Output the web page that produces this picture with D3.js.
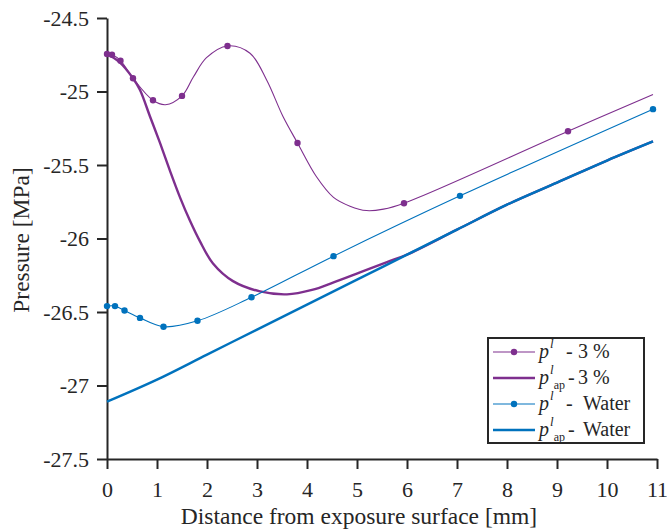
<!DOCTYPE html>
<html lang="en">
<head>
<meta charset="utf-8">
<title>Pressure profiles</title>
<script src="https://cdn.jsdelivr.net/npm/d3@7"></script>
<style>
body{margin:0;background:#fff;}
text{font-family:"Liberation Serif","DejaVu Serif",serif;fill:#262626;}
.axis path,.axis line{stroke:#262626;stroke-width:2;}
.axis text{font-size:22px;font-family:"Liberation Serif","DejaVu Serif",serif;}
</style>
</head>
<body>
<div id="chart"></div>
<script>
// values (x in mm, y in MPa)
var xTicks = [0,1,2,3,4,5,6,7,8,9,10,11]
var yTicks = [-24.5,-25,-25.5,-26,-26.5,-27,-27.5]
var yTickLabels = ["-24.5","-25","-25.5","-26","-26.5","-27","-27.5"]

// p^l - 3 %  (thin line, markers on some points)
var pur_x = [0,0.1,0.27,0.52,0.92,1.17,1.5,1.73,1.99,2.41,2.86,3.19,3.52,3.81,4.19,4.53,4.86,5.19,5.53,5.94,9.22,10.92]
var pur_y = [-24.745,-24.75,-24.79,-24.91,-25.06,-25.09,-25.03,-24.9,-24.77,-24.69,-24.74,-24.92,-25.17,-25.35,-25.58,-25.72,-25.78,-25.81,-25.80,-25.76,-25.27,-25.02]
var pur_marks = [0,1,2,3,4,6,9,13,19,20]

// p^l_ap - 3 %
var purAp_x = [0,0.25,0.52,0.66,0.86,1.06,1.26,1.46,1.66,1.86,2.12,2.52,3.06,3.6,4.1,4.52,5.06,5.6,6,7,8,9,10,10.92]
var purAp_y = [-24.745,-24.8,-24.91,-24.99,-25.17,-25.35,-25.54,-25.72,-25.88,-26.02,-26.17,-26.29,-26.36,-26.38,-26.35,-26.3,-26.23,-26.16,-26.11,-25.94,-25.77,-25.62,-25.47,-25.34]

// p^l - Water
var blu_x = [0,0.16,0.35,0.66,1.13,1.81,2.89,4.53,7.06,10.92]
var blu_y = [-26.46,-26.46,-26.49,-26.54,-26.6,-26.56,-26.4,-26.12,-25.71,-25.12]
var blu_marks = [0,1,2,3,4,5,6,7,8,9]

// p^l_ap - Water
var bluAp_x = [0,1,2,3,4,5,6,7,8,9,10,10.92]
var bluAp_y = [-27.11,-26.96,-26.79,-26.62,-26.45,-26.28,-26.11,-25.94,-25.77,-25.62,-25.47,-25.34]

var purple = "#7E2F8E"
var blue = "#0072BD"

var w = 667, h = 530
var svg = d3.select("#chart").append("svg")
    .attr("width",w).attr("height",h)

var xScale = d3.scaleLinear().domain([0,11]).range([107,657])
var yScale = d3.scaleLinear().domain([-27.5,-24.5]).range([459,18])

var xAxis = d3.axisBottom(xScale).tickValues(xTicks).tickFormat(d3.format("d"))
    .tickSizeInner(10).tickSizeOuter(0).tickPadding(12)
svg.append("g").attr("class","axis")
    .attr("transform","translate(0,459)")
    .call(xAxis)

var yAxis = d3.axisLeft(yScale).tickValues(yTicks)
    .tickFormat(function(d,i){ return yTickLabels[i] })
    .tickSizeInner(10).tickSizeOuter(0).tickPadding(8)
svg.append("g").attr("class","axis")
    .attr("transform","translate(107,0)")
    .call(yAxis)
svg.selectAll(".axis text").attr("fill","#262626")

svg.append("text")
    .attr("x",359).attr("y",524)
    .attr("text-anchor","middle")
    .style("font-size","23.5px")
    .text("Distance from exposure surface [mm]")

svg.append("text")
    .attr("transform","translate(29,240) rotate(-90)")
    .attr("text-anchor","middle")
    .style("font-size","23.5px")
    .text("Pressure [MPa]")

var line = d3.line()
    .x(function(d){ return xScale(d[0]) })
    .y(function(d){ return yScale(d[1]) })
    .curve(d3.curveCatmullRom.alpha(0.5))

function pairs(xs,ys){ return xs.map(function(x,i){ return [x,ys[i]] }) }

function drawSeries(xs,ys,color,width,marks){
    var pts = pairs(xs,ys)
    svg.append("path")
        .datum(pts)
        .attr("d",line)
        .attr("fill","none")
        .attr("stroke",color)
        .attr("stroke-width",width)
    if(marks){
        svg.append("g").selectAll("circle")
            .data(marks.map(function(i){ return pts[i] }))
            .enter()
            .append("circle")
            .attr("cx",function(d){ return xScale(d[0]) })
            .attr("cy",function(d){ return yScale(d[1]) })
            .attr("r",3.2)
            .attr("fill",color)
    }
}

drawSeries(pur_x,pur_y,purple,1.1,pur_marks)
drawSeries(purAp_x,purAp_y,purple,2.4,null)
drawSeries(blu_x,blu_y,blue,1.1,blu_marks)
drawSeries(bluAp_x,bluAp_y,blue,2.4,null)

// legend
var leg = svg.append("g").attr("transform","translate(488,338)")
leg.append("rect")
    .attr("width",156).attr("height",105)
    .attr("fill","#fff")
    .attr("stroke","#262626")
    .attr("stroke-width",2)

var legItems = [
    {color:purple, width:1.1, marker:true, sub:false, tail:"3 %"},
    {color:purple, width:2.4, marker:false, sub:true, tail:"3 %"},
    {color:blue, width:1.1, marker:true, sub:false, tail:"Water"},
    {color:blue, width:2.4, marker:false, sub:true, tail:"Water"}
]
var rowY = [14,40,66,92]

legItems.forEach(function(it,i){
    var g = leg.append("g").attr("transform","translate(0,"+rowY[i]+")")
    g.append("line")
        .attr("x1",5).attr("x2",47)
        .attr("stroke",it.color).attr("stroke-width",it.width)
    if(it.marker){
        g.append("circle").attr("cx",26).attr("r",3.2).attr("fill",it.color)
    }
    var t = g.append("text")
        .attr("y",6)
        .style("font-size","20px")
    t.append("tspan").attr("x",51).style("font-style","italic").text("p")
    t.append("tspan").style("font-style","italic").style("font-size","13px")
        .attr("dy",-10).attr("dx",1).text("l")
    if(it.sub){
        // "ap" subscript sits just right of the superscript so the two don't collide
        t.append("tspan").style("font-size","12px")
            .attr("dy",15).attr("dx",0).text("ap")
        t.append("tspan").attr("dy",-5).attr("x",80).text("-")
    } else {
        t.append("tspan").attr("dy",10).attr("x",78).text("-")
    }
    t.append("tspan").attr("x",it.tail=="Water" ? 95 : 90).text(it.tail)
})
</script>
</body>
</html>
